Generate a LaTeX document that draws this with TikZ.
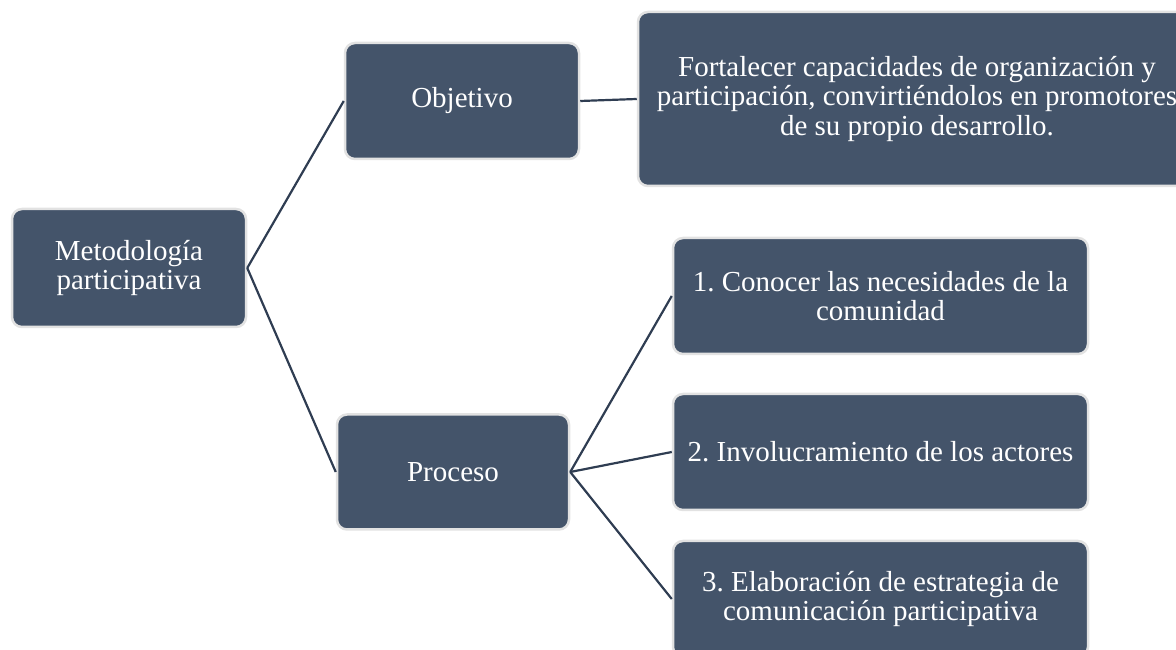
\documentclass[tikz,border=0pt]{standalone}
\usepackage{fontspec}
\setmainfont{Liberation Serif}
\frenchspacing
\definecolor{boxfill}{HTML}{44546A}
\definecolor{boxedge}{HTML}{E2E2E2}
\definecolor{linkc}{HTML}{2F3D52}
\begin{document}
\begin{tikzpicture}[x=1pt,y=1pt,
  boxnode/.style={rectangle, rounded corners=10pt, fill=boxfill, draw=boxedge, line width=2.5pt,
    text=white, align=center, inner sep=0pt, font=\fontsize{29}{29.5}\selectfont},
  link/.style={draw=linkc, line width=2.2pt}]
\useasboundingbox (0,0) rectangle (1176,650);
\node[boxnode, minimum width=234pt, minimum height=118pt] (met) at (129,382) {Metodología\\participativa};
\node[boxnode, minimum width=234pt, minimum height=116pt] (obj) at (462,549) {Objetivo};
\node[boxnode, minimum width=558pt, minimum height=174pt] (fort) at (917,551) {Fortalecer capacidades de organización y\\participación, convirtiéndolos en promotores\\de su propio desarrollo.};
\node[boxnode, minimum width=232pt, minimum height=115pt] (pro) at (453,178) {Proceso};
\node[boxnode, minimum width=415pt, minimum height=116pt] (b1) at (880.5,354) {1. Conocer las necesidades de la\\comunidad};
\node[boxnode, minimum width=415pt, minimum height=116pt] (b2) at (880.5,198) {2. Involucramiento de los actores};
\node[boxnode, minimum width=415pt, minimum height=116pt] (b3) at (880.5,51) {3. Elaboración de estrategia de\\comunicación participativa};
\draw[link] (met.east) -- (obj.west);
\draw[link] (met.east) -- (pro.west);
\draw[link] (obj.east) -- (fort.west);
\draw[link] (pro.east) -- (b1.west);
\draw[link] (pro.east) -- (b2.west);
\draw[link] (pro.east) -- (b3.west);
\end{tikzpicture}
\end{document}
